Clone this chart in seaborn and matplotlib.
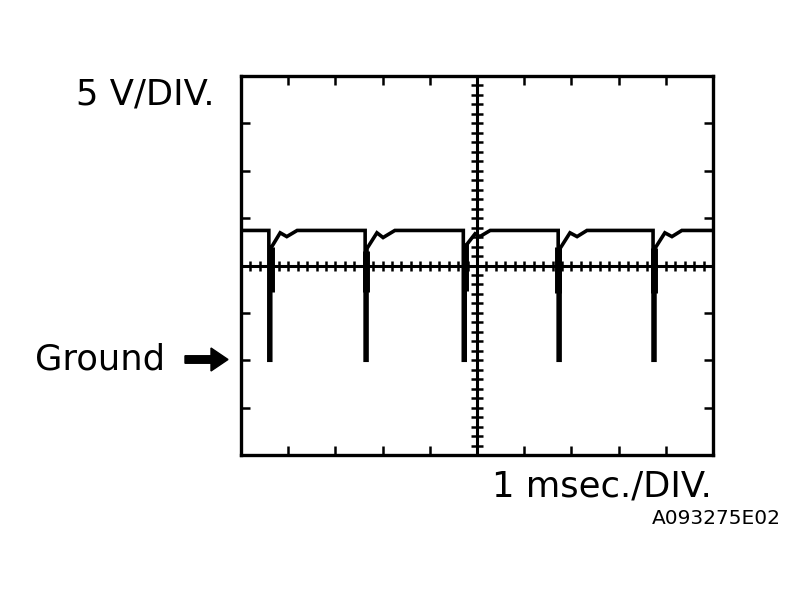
import matplotlib
matplotlib.use("Agg")
import matplotlib.pyplot as plt
from matplotlib.patches import FancyArrow
import numpy as np
import pandas as pd
import seaborn as sns

# ---- data (time in ms, voltage in V; 5 V/DIV, 1 ms/DIV) ----
trace_t = [0.00,
           0.59, 0.59, 0.63, 0.63, 0.83, 0.97, 1.19,
           2.63, 2.63, 2.67, 2.67, 2.88, 3.01, 3.26,
           4.71, 4.71, 4.75, 4.75, 4.96, 5.06, 5.28,
           6.72, 6.72, 6.76, 6.76, 6.97, 7.12, 7.33,
           8.73, 8.73, 8.77, 8.77, 8.98, 9.13, 9.34,
           10.00]
trace_v = [13.7,
           13.7, 0.0, 0.0, 11.8, 13.45, 13.05, 13.7,
           13.7, 0.0, 0.0, 11.8, 13.45, 12.95, 13.7,
           13.7, 0.0, 0.0, 12.0, 13.35, 13.05, 13.7,
           13.7, 0.0, 0.0, 11.8, 13.45, 13.05, 13.7,
           13.7, 0.0, 0.0, 11.8, 13.45, 13.05, 13.7,
           13.7]
burst_t = [0.63, 2.65, 4.75, 6.71, 8.75]
burst_lo = [7.2, 7.2, 7.3, 7.1, 7.1]
burst_hi = [12.0, 11.5, 12.4, 12.0, 11.8]

x_divs = list(range(0, 11))
y_divs = [-10, -5, 0, 5, 10, 15, 20, 25, 30]

label_volt = "5 V/DIV."
label_time = "1 msec./DIV."
label_ground = "Ground"
label_code = "A093275E02"

sns.set_style("white")
plt.rcParams['font.family'] = ['DejaVu Sans']
plt.rcParams['text.color'] = 'black'

W, H = 803, 602
fig = plt.figure(figsize=(W / 100, H / 100), dpi=100)
ax = fig.add_axes([241 / W, 1 - 455 / H, 472 / W, 379 / H])

df = pd.DataFrame({"t": trace_t, "v": trace_v})
sns.lineplot(data=df, x="t", y="v", sort=False, estimator=None,
             color="black", lw=2.6, ax=ax, solid_joinstyle="miter", zorder=4)
ax.vlines(burst_t, burst_lo, burst_hi, colors="black", lw=5.0, zorder=4)

ax.set_xlim(0, 10)
ax.set_ylim(-10, 30)
ax.set_xticks(x_divs)
ax.set_yticks(y_divs)
ax.set_xticklabels([])
ax.set_yticklabels([])
ax.set_xlabel("")
ax.set_ylabel("")
ax.tick_params(direction="in", length=6.5, width=1.8, color="black",
               top=True, right=True, bottom=True, left=True)
for s in ax.spines.values():
    s.set_color("black")
    s.set_linewidth(2.4)

# centre cross with graduations
ax.axhline(10, color="black", lw=2.2, zorder=3)
ax.axvline(5, color="black", lw=2.2, zorder=3)
grad_x = np.arange(0.2, 10.0, 0.2)
grad_y = np.arange(-9.0, 30.0, 1.0)
ax.plot(grad_x, np.full_like(grad_x, 10.0), ls="none", marker="|",
        ms=7, mew=1.8, color="black", zorder=3)
ax.plot(np.full_like(grad_y, 5.0), grad_y, ls="none", marker="_",
        ms=8, mew=1.8, color="black", zorder=3)

# texts
fig.text(215 / W, 1 - 105 / H, label_volt, ha="right", va="baseline", fontsize=25.5, color="black")
fig.text(35 / W, 1 - 369 / H, label_ground, ha="left", va="baseline", fontsize=25.5, color="black")
fig.text(492 / W, 1 - 497 / H, label_time, ha="left", va="baseline", fontsize=25.5, color="black")
fig.text(781 / W, 1 - 524 / H, label_code, ha="right", va="baseline", fontsize=14.5, color="black")

arrow = FancyArrow(1.85, (H - 359.5) / 100, 0.43, 0.0, width=0.075,
                   head_width=0.23, head_length=0.17, length_includes_head=True,
                   color="black", transform=fig.dpi_scale_trans)
fig.patches.append(arrow)

fig.savefig("out.png", dpi=100, facecolor="white")
